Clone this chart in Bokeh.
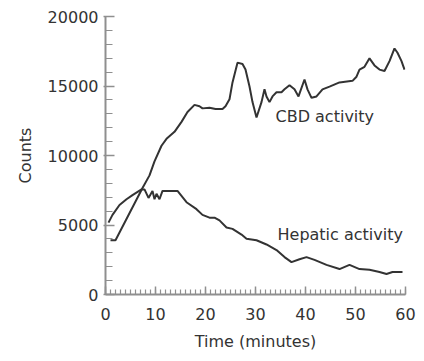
from bokeh.plotting import figure
from bokeh.models import FixedTicker, Range1d
from bokeh.core.properties import value
from bokeh.embed import file_html
from bokeh.resources import INLINE

# CBD activity (time in minutes, counts)
cbd_t = [1, 2, 7.4, 8.8, 9.8, 11.2, 12.2, 13.8, 15.2, 16.4, 17.8, 18.8, 19.4, 20.8, 22, 23.4,
         24, 24.8, 25.4, 26.4, 27.4, 28, 28.8, 29.4, 30.2, 31.2, 31.8, 32.2, 32.8, 33.4, 34.2,
         35.2, 35.8, 36.8, 37.8, 38.6, 39.8, 40.4, 41.2, 42.2, 43.4, 44.8, 46.8, 49.4, 50.2,
         50.8, 51.8, 52.8, 53.8, 54.8, 55.8, 56.8, 57.8, 58.4, 59.2, 59.8]
cbd_v = [3900, 3900, 7660, 8570, 9580, 10700, 11200, 11700, 12420, 13130, 13640, 13540, 13390,
         13440, 13340, 13340, 13540, 14050, 15260, 16680, 16580, 16180, 14960, 13840, 12730,
         13840, 14760, 14250, 13840, 14250, 14550, 14550, 14760, 15060, 14760, 14250, 15470,
         14760, 14150, 14250, 14760, 14960, 15260, 15370, 15670, 16180, 16380, 16990, 16480,
         16180, 16080, 16790, 17700, 17390, 16790, 16180]

# Hepatic activity
hep_t = [0.6, 1.4, 2.8, 4.2, 5.4, 7.2, 7.8, 8.6, 9.4, 9.8, 10.2, 10.8, 11.4, 14.4, 16.2, 18.2,
         19.4, 20.8, 21.8, 22.8, 24.2, 25.4, 27.2, 28.2, 30.2, 32.2, 34.2, 35.8, 37.2, 38.8,
         40.2, 41.8, 44.2, 46.8, 48.8, 50.8, 52.8, 54.8, 56.2, 57.4, 59.4]
hep_v = [5170, 5730, 6440, 6850, 7150, 7560, 7560, 6950, 7450, 6850, 7250, 6850, 7450, 7450,
         6640, 6140, 5730, 5530, 5530, 5330, 4820, 4720, 4310, 4010, 3900, 3600, 3200, 2690,
         2330, 2540, 2690, 2490, 2130, 1830, 2130, 1830, 1780, 1620, 1470, 1620, 1620]

x_ticks = [0, 10, 20, 30, 40, 50, 60]
y_ticks = [0, 5000, 10000, 15000, 20000]
labels = ["CBD activity", "Hepatic activity"]
label_t = [34, 34.4]
label_v = [12770, 4330]

FONT = "DejaVu Sans"
INK = "#333333"
AXIS = "#8f8f8f"

p = figure(width=416, height=353, output_backend="svg", toolbar_location=None,
           x_range=Range1d(0, 60), y_range=Range1d(0, 20000),
           min_border_left=105, min_border_right=11, min_border_top=16, min_border_bottom=55)
p.outline_line_color = None
p.xgrid.grid_line_color = None
p.ygrid.grid_line_color = None
p.background_fill_color = "white"

p.line(cbd_t, cbd_v, line_color=INK, line_width=2)
p.line(hep_t, hep_v, line_color=INK, line_width=2)
p.text(x=label_t, y=label_v, text=labels, text_font=value(FONT), text_font_size="16px",
       text_color=INK, text_align="left", text_baseline="middle")

xa = p.xaxis[0]
xa.ticker = FixedTicker(ticks=x_ticks, minor_ticks=list(range(0, 61)))
ya = p.yaxis[0]
ya.ticker = FixedTicker(ticks=y_ticks, minor_ticks=list(range(0, 20001, 1000)))

for ax in (xa, ya):
    ax.axis_line_color = AXIS
    ax.axis_line_width = 2
    ax.major_tick_line_color = AXIS
    ax.minor_tick_line_color = AXIS
    ax.major_tick_line_width = 1.5
    ax.minor_tick_line_width = 1.2
    ax.major_label_text_font = FONT
    ax.major_label_text_font_size = "16px"
    ax.major_label_text_color = INK
    ax.axis_label_text_font = FONT
    ax.axis_label_text_font_size = "16px"
    ax.axis_label_text_font_style = "normal"
    ax.axis_label_text_color = INK

xa.major_tick_in = 8
xa.major_tick_out = 0
xa.minor_tick_in = 5
xa.minor_tick_out = 0
xa.major_label_standoff = 13
xa.axis_label = "Time (minutes)"
xa.axis_label_standoff = 9

ya.major_tick_in = 9
ya.major_tick_out = 2
ya.minor_tick_in = 7
ya.minor_tick_out = 0
ya.major_label_standoff = 5
ya.axis_label = "Counts"
ya.axis_label_standoff = 10

open("out.html", "w").write(file_html(p, INLINE))
